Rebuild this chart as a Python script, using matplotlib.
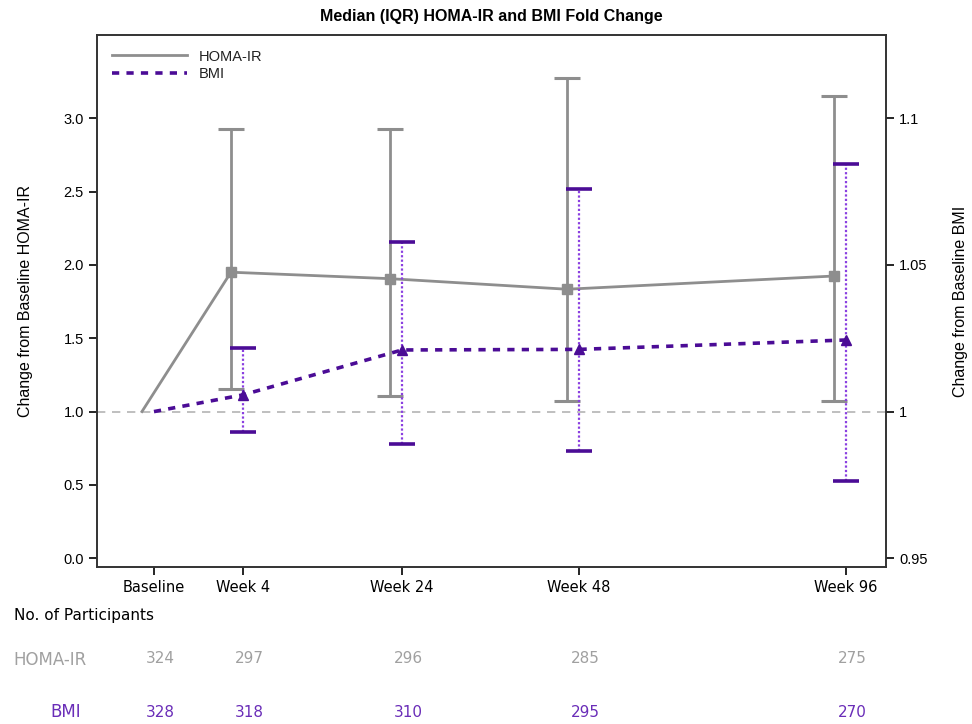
import numpy as np
import matplotlib
matplotlib.use('Agg')
import matplotlib.pyplot as plt

# visit labels and participant counts
visits = ['Baseline', 'Week 4', 'Week 24', 'Week 48', 'Week 96']
n_homa = [324, 297, 296, 285, 275]
n_bmi = [328, 318, 310, 295, 270]

# HOMA-IR fold change: median, Q1, Q3
homa_med = [1.0, 1.95, 1.906, 1.834, 1.924]
homa_q1 = [1.0, 1.152, 1.108, 1.072, 1.072]
homa_q3 = [1.0, 2.926, 2.926, 3.274, 3.151]

# BMI fold change: median, Q1, Q3
bmi_med = [1.0, 1.0057, 1.0210, 1.0212, 1.0244]
bmi_q1 = [1.0, 0.9930, 0.9889, 0.9865, 0.9763]
bmi_q3 = [1.0, 1.0218, 1.0579, 1.0758, 1.0845]

# layout: x slot of each visit (not evenly spaced in the source)
xpos = np.array([0.0, 1.0, 2.787, 4.775, 7.775])
shift = 0.135

grey = '#8e8e8e'
purple = '#4b0c96'
purple_light = '#8a3fe0'

plt.rcParams['font.family'] = ['Liberation Sans', 'DejaVu Sans']
fig = plt.figure(figsize=(9.72, 7.24), dpi=100)
ax = fig.add_axes([0.0998, 0.2169, 0.8117, 0.7348])
ax2 = ax.twinx()

ax.axhline(1.0, color='#b4b4b4', lw=1.2, ls=(0, (5, 4)), zorder=1)

hm = np.array(homa_med)
err_h = [hm - np.array(homa_q1), np.array(homa_q3) - hm]
xh = xpos - shift
ax.plot(xh, hm, color=grey, lw=2, marker='s', ms=7, markevery=[1, 2, 3, 4], zorder=3)
ax.errorbar(xh[1:], hm[1:], yerr=[err_h[0][1:], err_h[1][1:]], fmt='none',
            ecolor=grey, elinewidth=2, capsize=9.5, capthick=2.2, zorder=2)

bm = np.array(bmi_med)
err_b = [bm - np.array(bmi_q1), np.array(bmi_q3) - bm]
ax2.plot(xpos, bm, color=purple, lw=2.6, ls=(0, (2, 2)), marker='^', ms=7,
         markevery=[1, 2, 3, 4], zorder=4)
eb = ax2.errorbar(xpos[1:], bm[1:], yerr=[err_b[0][1:], err_b[1][1:]], fmt='none',
                  ecolor=purple_light, elinewidth=1.6, capsize=9.5, capthick=2.6, zorder=3)
eb[2][0].set_linestyle((0, (1, 1)))
for c in eb[1]:
    c.set_markeredgecolor(purple)

# legend proxies (lines only)
ax.plot([], [], color=grey, lw=2, label='HOMA-IR')
ax.plot([], [], color=purple, lw=2.6, ls=(0, (2, 2)), label='BMI')
leg = ax.legend(loc='upper left', frameon=False, fontsize=10.5, handlelength=5.2,
                borderaxespad=0.6, labelspacing=0.25)
for t in leg.get_texts():
    t.set_color('#222222')

ax.set_xlim(-0.64, 8.225)
ax.set_ylim(-0.059, 3.567)
ax2.set_ylim(0.95 + 0.05 * -0.059, 0.95 + 0.05 * 3.567)
ax.set_yticks([0.0, 0.5, 1.0, 1.5, 2.0, 2.5, 3.0])
ax.set_yticklabels(['0.0', '0.5', '1.0', '1.5', '2.0', '2.5', '3.0'])
ax2.set_yticks([0.95, 1.0, 1.05, 1.1])
ax2.set_yticklabels(['0.95', '1', '1.05', '1.1'])
ax.set_xticks(xpos)
ax.set_xticklabels(visits, family=['Liberation Sans Narrow', 'DejaVu Sans'], fontsize=11)
ax.tick_params(labelsize=10.5, length=6, width=1.2)
ax2.tick_params(labelsize=10.5, length=6, width=1.2)
for a in (ax, ax2):
    for s in a.spines.values():
        s.set_linewidth(1.2)
        s.set_color('#333333')

ax.set_ylabel('Change from Baseline HOMA-IR', fontsize=11.5, labelpad=22)
ax2.set_ylabel('Change from Baseline BMI', fontsize=11.5, labelpad=18)
ax.set_title('Median (IQR) HOMA-IR and BMI Fold Change', fontsize=11.5,
             fontweight='bold', pad=10)

# participants table
narrow = ['Liberation Sans Narrow', 'DejaVu Sans']
trans = ax.get_xaxis_transform()
fig.text(0.014, 0.150, 'No. of Participants', family=narrow, fontsize=11, va='center')
fig.text(0.014, 0.089, 'HOMA-IR', family=narrow, fontsize=12, va='center', color='#a0a0a0')
fig.text(0.083, 0.016, 'BMI', family=narrow, fontsize=12, va='center', ha='right',
         color='#6a2db8')
for x, nh, nb in zip(xpos, n_homa, n_bmi):
    ax.text(x + 0.07, -0.173, str(nh), transform=trans, ha='center', va='center',
            family=narrow, fontsize=11, color='#a0a0a0')
    ax.text(x + 0.07, -0.273, str(nb), transform=trans, ha='center', va='center',
            family=narrow, fontsize=11, color='#6a2db8')

fig.savefig('out.png', dpi=100)
